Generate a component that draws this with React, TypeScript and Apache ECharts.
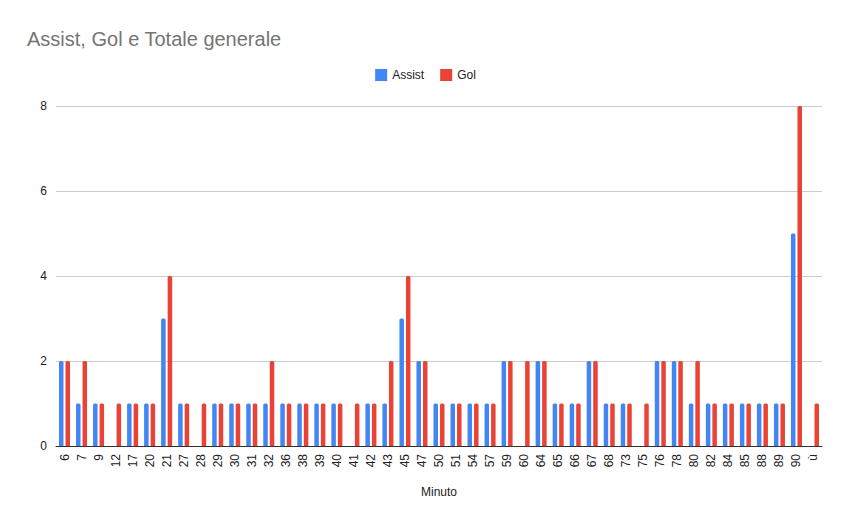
import React, { useEffect, useRef } from "react";
import * as echarts from "echarts";

const categories = ["6","7","9","12","17","20","21","27","28","29","30","31","32","36","38","39","40","41","42","43","45","47","50","51","54","57","59","60","64","65","66","67","68","73","75","76","78","80","82","84","85","88","89","90","ù"];
const assist = [2,1,1,0,1,1,3,1,0,1,1,1,1,1,1,1,1,0,1,1,3,2,1,1,1,1,2,0,2,1,1,2,1,1,0,2,2,1,1,1,1,1,1,5,0];
const gol = [2,2,1,1,1,1,4,1,1,1,1,1,2,1,1,1,1,1,1,2,4,2,1,1,1,1,2,2,2,1,1,2,1,1,1,2,2,2,1,1,1,1,1,8,1];
const yTicks = [0, 2, 4, 6, 8];

export default function App() {
  const ref = useRef<HTMLDivElement>(null);
  useEffect(() => {
    if (!ref.current) return;
    const chart = echarts.init(ref.current, undefined, { renderer: "svg" });
    const font = "Arial, 'Liberation Sans', sans-serif";
    chart.setOption({
      animation: false,
      textStyle: { fontFamily: font },
      title: {
        text: "Assist, Gol e Totale generale",
        left: 22,
        top: 24,
        textStyle: { fontSize: 20, fontWeight: "normal", color: "#757575", fontFamily: font },
      },
      legend: {
        top: 64,
        left: "center",
        itemWidth: 12,
        itemHeight: 12,
        itemGap: 16,
        icon: "rect",
        textStyle: { fontSize: 12, color: "#222", fontFamily: font },
        data: ["Assist", "Gol"],
      },
      grid: { left: 56, right: 29, top: 106, bottom: 79, containLabel: false },
      xAxis: {
        type: "category",
        data: categories,
        name: "Minuto",
        nameLocation: "middle",
        nameGap: 40,
        nameTextStyle: { fontSize: 12, color: "#222", fontFamily: font },
        axisLine: { lineStyle: { color: "#333", width: 1 } },
        axisTick: { show: false },
        axisLabel: { rotate: 90, fontSize: 12, color: "#222", interval: 0, margin: 8, fontFamily: font },
      },
      yAxis: {
        type: "value",
        min: yTicks[0],
        max: yTicks[yTicks.length - 1],
        interval: 2,
        axisLine: { show: false },
        axisTick: { show: false },
        splitLine: { lineStyle: { color: "#cccccc", width: 1 } },
        axisLabel: { fontSize: 12, color: "#222", margin: 9, fontFamily: font },
      },
      series: [
        {
          name: "Assist",
          type: "bar",
          data: assist,
          barWidth: 4.5,
          barGap: "45%",
          itemStyle: { color: "#4285F4", borderRadius: [1.5, 1.5, 0, 0] },
        },
        {
          name: "Gol",
          type: "bar",
          data: gol,
          barWidth: 4.5,
          barGap: "45%",
          itemStyle: { color: "#EA4335", borderRadius: [1.5, 1.5, 0, 0] },
        },
      ],
    });
    return () => chart.dispose();
  }, []);
  return <div ref={ref} style={{ width: 851, height: 525, position: "absolute", left: 0, top: 0 }} />;
}
